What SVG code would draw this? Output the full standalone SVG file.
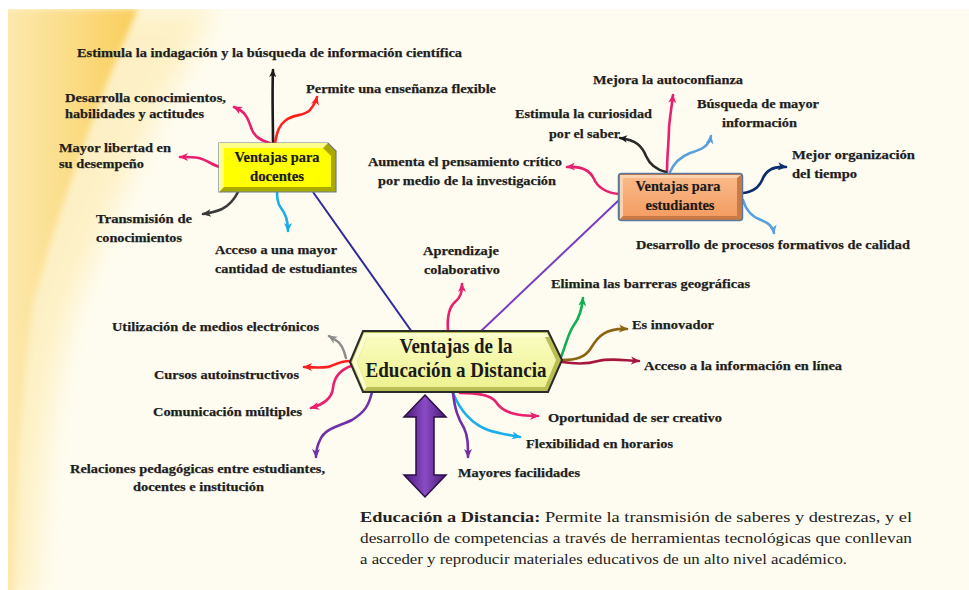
<svg xmlns="http://www.w3.org/2000/svg" width="969" height="590" viewBox="0 0 969 590">
<style>
text{font-family:"Liberation Serif","Times New Roman",Times,"DejaVu Serif",serif}
.lbl{font-weight:bold;font-size:13.5px;fill:#1e1e1e;stroke:#1e1e1e;stroke-width:0.25}
.nd{font-weight:bold;font-size:14px;fill:#1a1a1a;stroke:#1a1a1a;stroke-width:0.2}
.ctr{font-weight:bold;font-size:20px;fill:#1a1a1a}
.par{font-size:15.5px;fill:#222}
.br{fill:none;stroke-width:2.6;stroke-linecap:round;stroke-linejoin:round}
</style>
<defs>
<filter id="blur" x="-50%" y="-10%" width="200%" height="120%"><feGaussianBlur stdDeviation="12"/></filter>
<filter id="blur2" x="-50%" y="-10%" width="200%" height="120%"><feGaussianBlur stdDeviation="3"/></filter>
<linearGradient id="yg" x1="0" y1="0" x2="1" y2="0">
<stop offset="0" stop-color="#FDEDBE"/>
<stop offset="0.6" stop-color="#FBDC84"/>
<stop offset="1" stop-color="#F8CC58"/>
</linearGradient>
<linearGradient id="orgGrad" x1="0" y1="0" x2="0" y2="1">
<stop offset="0" stop-color="#F9B888"/>
<stop offset="1" stop-color="#F49D63"/>
</linearGradient>
<linearGradient id="hexGrad" x1="0" y1="0" x2="0" y2="1">
<stop offset="0" stop-color="#FAFCC0"/>
<stop offset="1" stop-color="#EDF290"/>
</linearGradient>
<linearGradient id="purGrad" x1="0" y1="0" x2="1" y2="0">
<stop offset="0" stop-color="#4A1878"/>
<stop offset="0.5" stop-color="#8A4CC4"/>
<stop offset="1" stop-color="#4A1878"/>
</linearGradient>
<marker id="mk-black" viewBox="0 0 10 10" refX="8" refY="5" markerWidth="9" markerHeight="9" markerUnits="userSpaceOnUse" orient="auto"><path d="M0,1 L9,5 L0,9 L2.5,5 Z" fill="#1a1a1a"/></marker>
<marker id="mk-red" viewBox="0 0 10 10" refX="8" refY="5" markerWidth="10" markerHeight="10" markerUnits="userSpaceOnUse" orient="auto"><path d="M0,1 L9,5 L0,9 L2.5,5 Z" fill="#FF2020"/></marker>
<marker id="mk-pink" viewBox="0 0 10 10" refX="8" refY="5" markerWidth="10" markerHeight="10" markerUnits="userSpaceOnUse" orient="auto"><path d="M0,1 L9,5 L0,9 L2.5,5 Z" fill="#E8206E"/></marker>
<marker id="mk-dgray" viewBox="0 0 10 10" refX="8" refY="5" markerWidth="10" markerHeight="10" markerUnits="userSpaceOnUse" orient="auto"><path d="M0,1 L9,5 L0,9 L2.5,5 Z" fill="#3A3A3A"/></marker>
<marker id="mk-cyan" viewBox="0 0 10 10" refX="8" refY="5" markerWidth="10" markerHeight="10" markerUnits="userSpaceOnUse" orient="auto"><path d="M0,1 L9,5 L0,9 L2.5,5 Z" fill="#1AAEEB"/></marker>
<marker id="mk-lblue" viewBox="0 0 10 10" refX="8" refY="5" markerWidth="10" markerHeight="10" markerUnits="userSpaceOnUse" orient="auto"><path d="M0,1 L9,5 L0,9 L2.5,5 Z" fill="#5BA0DE"/></marker>
<marker id="mk-navy" viewBox="0 0 10 10" refX="8" refY="5" markerWidth="10" markerHeight="10" markerUnits="userSpaceOnUse" orient="auto"><path d="M0,1 L9,5 L0,9 L2.5,5 Z" fill="#0B2D6B"/></marker>
<marker id="mk-gray" viewBox="0 0 10 10" refX="8" refY="5" markerWidth="10" markerHeight="10" markerUnits="userSpaceOnUse" orient="auto"><path d="M0,1 L9,5 L0,9 L2.5,5 Z" fill="#8C8C8C"/></marker>
<marker id="mk-green" viewBox="0 0 10 10" refX="8" refY="5" markerWidth="10" markerHeight="10" markerUnits="userSpaceOnUse" orient="auto"><path d="M0,1 L9,5 L0,9 L2.5,5 Z" fill="#12AE52"/></marker>
<marker id="mk-brown" viewBox="0 0 10 10" refX="8" refY="5" markerWidth="10" markerHeight="10" markerUnits="userSpaceOnUse" orient="auto"><path d="M0,1 L9,5 L0,9 L2.5,5 Z" fill="#8A6412"/></marker>
<marker id="mk-dred" viewBox="0 0 10 10" refX="8" refY="5" markerWidth="10" markerHeight="10" markerUnits="userSpaceOnUse" orient="auto"><path d="M0,1 L9,5 L0,9 L2.5,5 Z" fill="#A6163F"/></marker>
<marker id="mk-purple" viewBox="0 0 10 10" refX="8" refY="5" markerWidth="10" markerHeight="10" markerUnits="userSpaceOnUse" orient="auto"><path d="M0,1 L9,5 L0,9 L2.5,5 Z" fill="#7030A8"/></marker>
<clipPath id="panel"><rect x="8" y="9" width="961" height="581"/></clipPath>
</defs>

<g id="background">
<rect x="0" y="0" width="969" height="590" fill="#FFFFFF"/>
<rect x="8" y="9" width="961" height="581" fill="#FEFCF0"/>
<g clip-path="url(#panel)">
<path d="M-20,9 L215,9 C160,110 105,215 70,320 C48,400 40,500 36,600 L-20,600 Z" fill="#FDEDB8" opacity="0.75" filter="url(#blur)"/>
<path d="M-20,9 L138,9 C100,95 62,200 34,300 C22,380 16,480 14,600 L-20,600 Z" fill="url(#yg)" filter="url(#blur2)"/>
</g>
</g>

<g id="connectors">
<line x1="313" y1="192" x2="412" y2="332" stroke="#2E2A9C" stroke-width="2"/>
<line x1="619" y1="200" x2="480" y2="332" stroke="#7A3CC0" stroke-width="2"/>
<path class="br" d="M273,143 C273,120 272,95 273,70" stroke="#1a1a1a" stroke-width="2.2" marker-end="url(#mk-black)"/>
<path class="br" d="M275,143 C277,132 279,125 286,120 C294,114 305,116 310,110 C314,105 316,101 317,97" stroke="#FF2020" marker-end="url(#mk-red)"/>
<path class="br" d="M270,143 C262,141 255,137 252,130 C249,122 247,114 240,110 L234,107" stroke="#E8206E" marker-end="url(#mk-pink)"/>
<path class="br" d="M220,167 C212,165 207,160 199,158 C193,157 188,157 180,157" stroke="#E8206E" marker-end="url(#mk-pink)"/>
<path class="br" d="M238,192 C234,200 230,205 222,209 C215,212 210,213 203,214" stroke="#3A3A3A" marker-end="url(#mk-dgray)"/>
<path class="br" d="M277,188 C277,196 277,203 281,208 C286,214 288,220 288,231" stroke="#1AAEEB" marker-end="url(#mk-cyan)"/>
<path class="br" d="M667,172 C667,155 669,140 669,128 C670,115 672,105 673,95" stroke="#E8206E" marker-end="url(#mk-pink)"/>
<path class="br" d="M666,172 C657,170 650,165 646,156 C642,146 636,140 620,138" stroke="#2A2A2A" marker-end="url(#mk-black)"/>
<path class="br" d="M670,172 C674,163 680,157 690,153 C700,150 709,147 711,136" stroke="#5BA0DE" marker-end="url(#mk-lblue)"/>
<path class="br" d="M619,194 C605,193 597,186 594,179 C590,170 582,166 567,167" stroke="#E8206E" marker-end="url(#mk-pink)"/>
<path class="br" d="M743,193 C755,192 760,186 763,178 C767,169 775,166 786,167" stroke="#0B2D6B" marker-end="url(#mk-navy)"/>
<path class="br" d="M743,200 C746,210 752,217 761,220 C769,223 773,227 774,233" stroke="#5BA0DE" marker-end="url(#mk-lblue)"/>
<path class="br" d="M448,331 C447,318 448,308 455,302 C461,297 462,292 462,284" stroke="#E8206E" marker-end="url(#mk-pink)"/>
<path class="br" d="M346,358 C344,350 342,344 337,341 L329,336" stroke="#8C8C8C" marker-end="url(#mk-gray)"/>
<path class="br" d="M350,361 C342,361 338,363 331,366 C324,369 316,367 304,367" stroke="#FF2020" marker-end="url(#mk-red)"/>
<path class="br" d="M351,366 C340,370 334,378 333,388 C332,398 325,404 311,408" stroke="#E8206E" marker-end="url(#mk-pink)"/>
<path class="br" d="M372,392 C369,405 365,412 352,420 C340,426 325,428 320,440 C317,446 316,452 316,457" stroke="#7030A8" marker-end="url(#mk-purple)"/>
<path class="br" d="M561,357 C566,345 568,333 574,325 C580,317 582,308 583,298" stroke="#12AE52" marker-end="url(#mk-green)"/>
<path class="br" d="M562,360 C575,360 585,358 591,348 C598,336 606,328 627,329" stroke="#8A6412" marker-end="url(#mk-brown)"/>
<path class="br" d="M562,362 C575,364 588,364 598,361 C610,358 620,360 639,361" stroke="#A6163F" marker-end="url(#mk-dred)"/>
<path class="br" d="M460,393 C475,393 490,394 496,402 C502,412 515,416 538,416" stroke="#E8206E" marker-end="url(#mk-pink)"/>
<path class="br" d="M453,393 C460,410 472,424 488,430 C500,434 510,435 520,437" stroke="#1AAEEB" marker-end="url(#mk-cyan)"/>
<path class="br" d="M453,393 C455,410 458,418 464,428 C468,436 468,445 468,457" stroke="#7030A8" marker-end="url(#mk-purple)"/>
</g>

<g id="node-docentes">
<path d="M219,143 H328 L336,151 V192 H219 Z" fill="#A9A900" stroke="#6C7C8C" stroke-width="1.2"/>
<path d="M219,143 H328 L323,148 H224 V187 L219,192 Z" fill="#FFFF8C"/>
<path d="M224,148 H323 L331,156 V187 H224 Z" fill="#FFFF00"/>
<text class="nd" x="277" y="162" text-anchor="middle" textLength="85" lengthAdjust="spacingAndGlyphs">Ventajas para</text>
<text class="nd" x="277" y="181" text-anchor="middle" textLength="54" lengthAdjust="spacingAndGlyphs">docentes</text>
</g>

<g id="node-estudiantes">
<rect x="618.5" y="173.5" width="124" height="47" rx="3" fill="#C97A45" stroke="#5878A0" stroke-width="1.5"/>
<path d="M620,175 H741 L737,178 H623 V216 L620,219 Z" fill="#FCD3B0"/>
<rect x="623" y="178" width="114" height="38" fill="url(#orgGrad)"/>
<text class="nd" x="678" y="191" text-anchor="middle" textLength="85" lengthAdjust="spacingAndGlyphs">Ventajas para</text>
<text class="nd" x="680" y="210" text-anchor="middle" textLength="69" lengthAdjust="spacingAndGlyphs">estudiantes</text>
</g>

<g id="node-central">
<polygon points="350,362 363,331 548,331 562,360 548,392 363,392" fill="#B9BE52" stroke="#2B2B2B" stroke-width="2"/>
<polygon points="352,362 364,333 547,333 549,337 367,337 357,362 367,387 364,390" fill="#FBFDD0"/>
<polygon points="357,362 367,337 545,337 556,360 545,387 367,387" fill="url(#hexGrad)"/>
<text class="ctr" x="456" y="353" text-anchor="middle" textLength="113" lengthAdjust="spacingAndGlyphs">Ventajas de la</text>
<text class="ctr" x="456" y="377" text-anchor="middle" textLength="181" lengthAdjust="spacingAndGlyphs">Educación a Distancia</text>
</g>

<g id="double-arrow">
<polygon points="425,395 446,417 434,417 434,475 446,475 425,497 404,475 416,475 416,417 404,417" fill="url(#purGrad)" stroke="#2A0F45" stroke-width="1.5" stroke-linejoin="miter"/>
</g>

<g id="labels-docentes">
<text class="lbl" x="77" y="56.5" textLength="385" lengthAdjust="spacingAndGlyphs">Estimula la indagación y la búsqueda de información científica</text>
<text class="lbl" x="306" y="92.5" textLength="190" lengthAdjust="spacingAndGlyphs">Permite una enseñanza flexible</text>
<text class="lbl" x="65" y="101.5" textLength="161" lengthAdjust="spacingAndGlyphs">Desarrolla conocimientos,</text>
<text class="lbl" x="65" y="117.5" textLength="139" lengthAdjust="spacingAndGlyphs">habilidades y actitudes</text>
<text class="lbl" x="59" y="151.5" textLength="112" lengthAdjust="spacingAndGlyphs">Mayor libertad en</text>
<text class="lbl" x="59" y="167.5" textLength="85" lengthAdjust="spacingAndGlyphs">su desempeño</text>
<text class="lbl" x="96" y="222.5" textLength="96" lengthAdjust="spacingAndGlyphs">Transmisión de</text>
<text class="lbl" x="96" y="241.5" textLength="86" lengthAdjust="spacingAndGlyphs">conocimientos</text>
<text class="lbl" x="215" y="253.5" textLength="122" lengthAdjust="spacingAndGlyphs">Acceso a una mayor</text>
<text class="lbl" x="215" y="272.5" textLength="142" lengthAdjust="spacingAndGlyphs">cantidad de estudiantes</text>
</g>

<g id="labels-estudiantes">
<text class="lbl" x="368" y="165.5" textLength="194" lengthAdjust="spacingAndGlyphs">Aumenta el pensamiento crítico</text>
<text class="lbl" x="378" y="184.5" textLength="178" lengthAdjust="spacingAndGlyphs">por medio de la investigación</text>
<text class="lbl" x="593" y="83.5" textLength="150" lengthAdjust="spacingAndGlyphs">Mejora la autoconfianza</text>
<text class="lbl" x="515" y="117.5" textLength="137" lengthAdjust="spacingAndGlyphs">Estimula la curiosidad</text>
<text class="lbl" x="549" y="137.5" textLength="71" lengthAdjust="spacingAndGlyphs">por el saber</text>
<text class="lbl" x="697" y="107.5" textLength="122" lengthAdjust="spacingAndGlyphs">Búsqueda de mayor</text>
<text class="lbl" x="722" y="126.5" textLength="75" lengthAdjust="spacingAndGlyphs">información</text>
<text class="lbl" x="792" y="158.5" textLength="123" lengthAdjust="spacingAndGlyphs">Mejor organización</text>
<text class="lbl" x="792" y="177.5" textLength="65" lengthAdjust="spacingAndGlyphs">del tiempo</text>
<text class="lbl" x="636" y="248.5" textLength="274" lengthAdjust="spacingAndGlyphs">Desarrollo de procesos formativos de calidad</text>
</g>

<g id="labels-central">
<text class="lbl" x="423" y="254.5" textLength="76" lengthAdjust="spacingAndGlyphs">Aprendizaje</text>
<text class="lbl" x="424" y="273.5" textLength="76" lengthAdjust="spacingAndGlyphs">colaborativo</text>
<text class="lbl" x="551" y="287.5" textLength="199" lengthAdjust="spacingAndGlyphs">Elimina las barreras geográficas</text>
<text class="lbl" x="632" y="328.5" textLength="82" lengthAdjust="spacingAndGlyphs">Es innovador</text>
<text class="lbl" x="644" y="369.5" textLength="198" lengthAdjust="spacingAndGlyphs">Acceso a la información en línea</text>
<text class="lbl" x="548" y="421.5" textLength="174" lengthAdjust="spacingAndGlyphs">Oportunidad de ser creativo</text>
<text class="lbl" x="526" y="447.5" textLength="147" lengthAdjust="spacingAndGlyphs">Flexibilidad en horarios</text>
<text class="lbl" x="458" y="476.5" textLength="122" lengthAdjust="spacingAndGlyphs">Mayores facilidades</text>
<text class="lbl" x="112" y="330.5" textLength="207" lengthAdjust="spacingAndGlyphs">Utilización de medios electrónicos</text>
<text class="lbl" x="154" y="378.5" textLength="145" lengthAdjust="spacingAndGlyphs">Cursos autoinstructivos</text>
<text class="lbl" x="153" y="415.5" textLength="149" lengthAdjust="spacingAndGlyphs">Comunicación múltiples</text>
<text class="lbl" x="70" y="472.5" textLength="255" lengthAdjust="spacingAndGlyphs">Relaciones pedagógicas entre estudiantes,</text>
<text class="lbl" x="133" y="490.5" textLength="131" lengthAdjust="spacingAndGlyphs">docentes e institución</text>
</g>

<g id="definition">
<text class="par" x="360" y="522" textLength="552" lengthAdjust="spacingAndGlyphs"><tspan font-weight="bold">Educación a Distancia:</tspan> Permite la transmisión de saberes y destrezas, y el</text>
<text class="par" x="360" y="543" textLength="552" lengthAdjust="spacingAndGlyphs">desarrollo de competencias  a través de herramientas tecnológicas que conllevan</text>
<text class="par" x="360" y="564" textLength="487" lengthAdjust="spacingAndGlyphs">a acceder y reproducir materiales educativos de un alto nivel académico.</text>
</g>
</svg>
